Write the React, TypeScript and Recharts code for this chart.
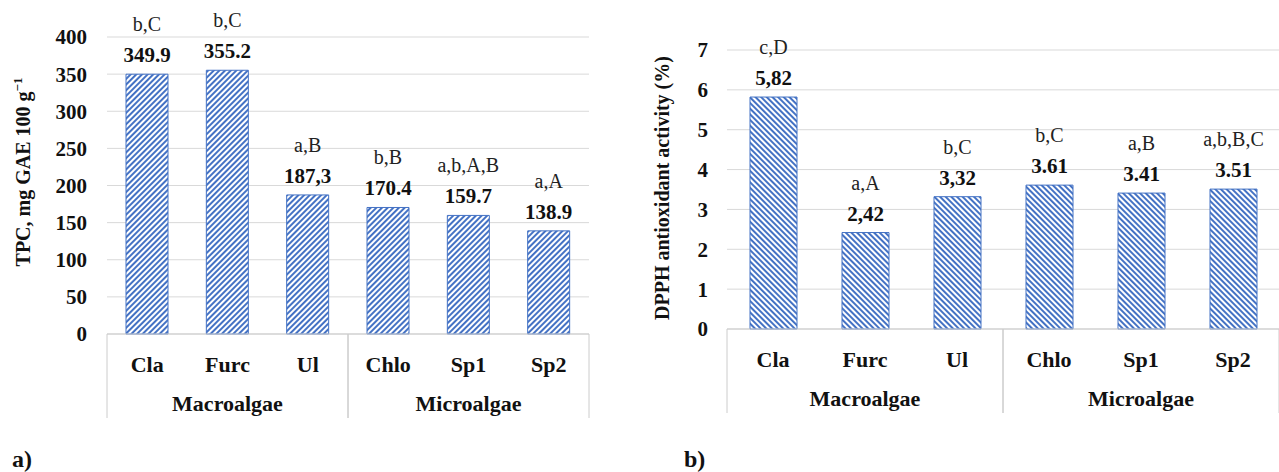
import { Bar, BarChart, CartesianGrid, LabelList, XAxis, YAxis } from "recharts";

const categories = ["Cla", "Furc", "Ul", "Chlo", "Sp1", "Sp2"];
const groups = ["Macroalgae", "Macroalgae", "Macroalgae", "Microalgae", "Microalgae", "Microalgae"];

const tpcValues = [349.9, 355.2, 187.3, 170.4, 159.7, 138.9];
const tpcValueLabels = ["349.9", "355.2", "187,3", "170.4", "159.7", "138.9"];
const tpcLetters = ["b,C", "b,C", "a,B", "b,B", "a,b,A,B", "a,A"];
const tpcTicks = [0, 50, 100, 150, 200, 250, 300, 350, 400];

const dpphValues = [5.82, 2.42, 3.32, 3.61, 3.41, 3.51];
const dpphValueLabels = ["5,82", "2,42", "3,32", "3.61", "3.41", "3.51"];
const dpphLetters = ["c,D", "a,A", "b,C", "b,C", "a,B", "a,b,B,C"];
const dpphTicks = [0, 1, 2, 3, 4, 5, 6, 7];

const FONT = "Liberation Serif, DejaVu Serif, serif";
const BLUE = "#4472c4";
const GRID = "#d9d9d9";
const BOX = "#cccccc";

type Row = { name: string; group: string; value: number; label: string; letters: string };

function buildRows(values: number[], labels: string[], letters: string[]): Row[] {
  return categories.map((name, i) => ({
    name,
    group: groups[i],
    value: values[i],
    label: labels[i],
    letters: letters[i],
  }));
}

const tpcData = buildRows(tpcValues, tpcValueLabels, tpcLetters);
const dpphData = buildRows(dpphValues, dpphValueLabels, dpphLetters);

// category label + grouped "box" underneath, like Excel's multi-level axis
function CategoryTick(props: any) {
  const { x, y, payload, index } = props;
  const i = typeof index === "number" ? index : payload.index;
  const half = payload?.offset || 40;
  const group = groups[i];
  const first = i === 0 || groups[i - 1] !== group;
  const last = i === groups.length - 1 || groups[i + 1] !== group;
  let groupLabel = null;
  if (first) {
    let end = i;
    while (end + 1 < groups.length && groups[end + 1] === group) end++;
    const cx = x + (end - i) * half;
    groupLabel = (
      <text x={cx} y={y + 77} textAnchor="middle" style={{ fontFamily: FONT }} fontWeight="bold" fontSize={22} fill="#111">
        {group}
      </text>
    );
  }
  return (
    <g>
      <text x={x} y={y + 38} textAnchor="middle" style={{ fontFamily: FONT }} fontWeight="bold" fontSize={22} fill="#111">
        {payload.value}
      </text>
      {groupLabel}
      {first && <line x1={x - half} x2={x - half} y1={y} y2={y + 84} stroke={BOX} strokeWidth={1} />}
      {last && <line x1={x + half} x2={x + half} y1={y} y2={y + 84} stroke={BOX} strokeWidth={1} />}
    </g>
  );
}

function ValueText(props: any) {
  const { x, y, width, value } = props;
  return (
    <text x={Number(x) + Number(width) / 2} y={Number(y) - 12} textAnchor="middle" style={{ fontFamily: FONT }} fontWeight="bold" fontSize={21} fill="#111">
      {value}
    </text>
  );
}

function LetterText(props: any) {
  const { x, y, width, value } = props;
  return (
    <text x={Number(x) + Number(width) / 2} y={Number(y) - 43} textAnchor="middle" style={{ fontFamily: FONT }} fontSize={20} fill="#222">
      {value}
    </text>
  );
}

const tickStyle = { fontFamily: FONT, fontWeight: "bold" as const, fontSize: 21, fill: "#111" };

function Hatch({ id, angle }: { id: string; angle: number }) {
  return (
    <defs>
      <pattern id={id} width={4} height={4} patternUnits="userSpaceOnUse" patternTransform={`rotate(${angle})`}>
        <rect width={4} height={4} fill="#ffffff" />
        <line x1={1} y1={0} x2={1} y2={4} stroke={BLUE} strokeWidth={2} />
      </pattern>
    </defs>
  );
}

export default function App() {
  return (
    <div style={{ position: "absolute", left: 0, top: 0, width: 1279, height: 472, background: "#fff", overflow: "hidden", fontFamily: FONT }}>
      <div style={{ position: "absolute", left: 0, top: 0 }}>
        <BarChart width={640} height={472} data={tpcData} margin={{ top: 37, right: 51, bottom: 54, left: 47 }} style={{ fontFamily: FONT }}>
          <Hatch id="hatch-tpc" angle={45} />
          <CartesianGrid vertical={false} stroke={GRID} />
          <XAxis
            dataKey="name"
            height={84}
            interval={0}
            tickLine={false}
            tickSize={0}
            tickMargin={0}
            axisLine={{ stroke: BOX }}
            tick={<CategoryTick />}
          />
          <YAxis
            width={60}
            domain={[0, 400]}
            ticks={tpcTicks}
            axisLine={false}
            tickLine={false}
            tickSize={0}
            tickMargin={20}
            tick={tickStyle}
          />
          <Bar dataKey="value" barSize={42} fill="url(#hatch-tpc)" stroke={BLUE} strokeWidth={1} isAnimationActive={false}>
            <LabelList dataKey="label" content={<ValueText />} />
            <LabelList dataKey="letters" content={<LetterText />} />
          </Bar>
          <text transform="translate(30,172) rotate(-90)" textAnchor="middle" style={{ fontFamily: FONT }} fontWeight="bold" fontSize={20} fill="#111">
            TPC, mg GAE 100 g
            <tspan dy={-8} fontSize={13}>−1</tspan>
          </text>
        </BarChart>
      </div>
      <div style={{ position: "absolute", left: 640, top: 0 }}>
        <BarChart width={639} height={472} data={dpphData} margin={{ top: 50, right: 0, bottom: 59, left: 47 }} style={{ fontFamily: FONT }}>
          <Hatch id="hatch-dpph" angle={-45} />
          <CartesianGrid vertical={false} stroke={GRID} />
          <XAxis
            dataKey="name"
            height={84}
            interval={0}
            tickLine={false}
            tickSize={0}
            tickMargin={0}
            axisLine={{ stroke: BOX }}
            tick={<CategoryTick />}
          />
          <YAxis
            width={40}
            domain={[0, 7]}
            ticks={dpphTicks}
            axisLine={false}
            tickLine={false}
            tickSize={0}
            tickMargin={19}
            tick={tickStyle}
          />
          <Bar dataKey="value" barSize={47} fill="url(#hatch-dpph)" stroke={BLUE} strokeWidth={1} isAnimationActive={false}>
            <LabelList dataKey="label" content={<ValueText />} />
            <LabelList dataKey="letters" content={<LetterText />} />
          </Bar>
          <text transform="translate(29,188) rotate(-90)" textAnchor="middle" style={{ fontFamily: FONT }} fontWeight="bold" fontSize={20} fill="#111">
            DPPH antioxidant activity (%)
          </text>
        </BarChart>
      </div>
      <div style={{ position: "absolute", left: 12, top: 446, fontWeight: "bold", fontSize: 24, color: "#111" }}>a)</div>
      <div style={{ position: "absolute", left: 684, top: 446, fontWeight: "bold", fontSize: 24, color: "#111" }}>b)</div>
    </div>
  );
}
